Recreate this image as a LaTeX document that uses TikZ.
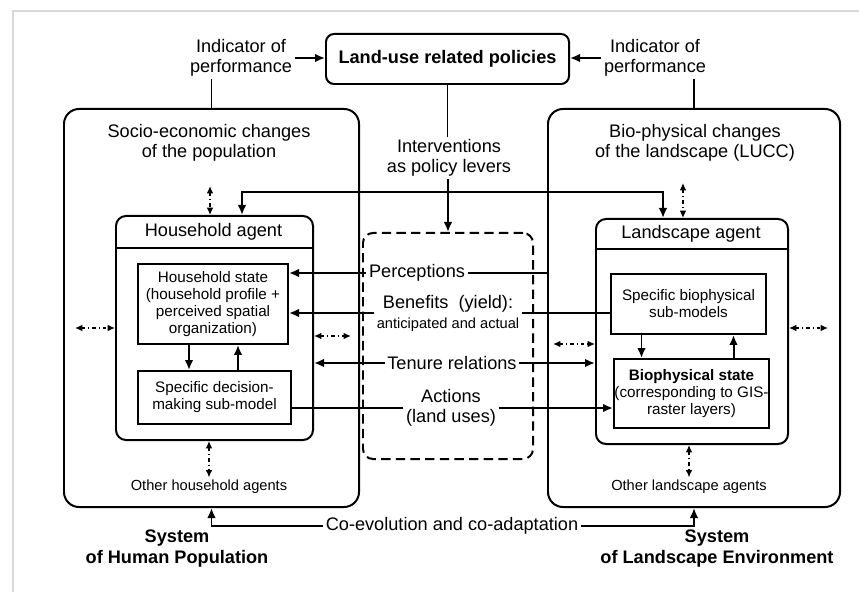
\documentclass[tikz,border=0pt]{standalone}
\usepackage{fontspec}
\setmainfont{Liberation Sans}
\usetikzlibrary{arrows.meta}

\begin{document}
\begin{tikzpicture}[x=0.03cm, y=-0.03cm, line width=1.7pt,
    riquadro/.style={draw=black, inner sep=0pt, anchor=north west},
    freccia/.style={-{Latex[length=3mm, width=2.6mm]}},
    doppia/.style={{Latex[length=3mm, width=2.6mm]}-{Latex[length=3mm, width=2.6mm]}},
    scambio/.style={line width=1.2pt, dash pattern=on 3pt off 2.5pt on 1pt off 2.5pt,
      {Latex[length=2.2mm, width=2mm]}-{Latex[length=2.2mm, width=2mm]}},
    grande/.style={font=\fontsize{15.5}{17}\selectfont, align=center, inner sep=1.5pt},
    medio/.style={font=\fontsize{13}{14.5}\selectfont, align=center},
    piccolo/.style={font=\fontsize{12.5}{14}\selectfont, align=center, inner sep=1.5pt}]

  \def\px{0.3mm}

  \useasboundingbox (0,0) rectangle (859,592);
  \draw[black!15, line width=1.2pt] (13,592) -- (13,11) -- (859,11);

  \node[riquadro, rounded corners=2.4mm, minimum width=243*\px, minimum height=50*\px,
        font=\bfseries\fontsize{15.5}{17}\selectfont] (policy) at (325,33) {Land-use related policies};
  \node[grande] (indL) at (241,58) {Indicator of\\performance};
  \node[grande] (indR) at (655,58) {Indicator of\\performance};

  \node[riquadro, rounded corners=4.5mm, minimum width=295*\px, minimum height=398*\px] (popbox) at (63,108) {};
  \node[riquadro, rounded corners=4.5mm, minimum width=292*\px, minimum height=398*\px] (landbox) at (547,108) {};
  \node[grande] (socio) at (209,143) {Socio-economic changes\\of the population};
  \node[grande] (bio) at (695,143) {Bio-physical changes\\of the landscape (LUCC)};
  \node[grande] (interv) at (449,158) {Interventions\\as policy levers};

  \node[riquadro, dash pattern=on 8pt off 4.5pt, rounded corners=3mm,
        minimum width=170*\px, minimum height=226*\px] (leve) at (362,232) {};

  \node[riquadro, rounded corners=3mm, minimum width=197*\px, minimum height=224*\px] (hh) at (115,215) {};
  \draw (hh.north west) ++(0,33) -- ++(197,0);
  \node[grande] (hhtitle) at (213.5,231.5) {Household agent};
  \node[riquadro, rounded corners=3mm, minimum width=192*\px, minimum height=225*\px] (la) at (595,218) {};
  \draw (la.north west) ++(0,31) -- ++(192,0);
  \node[grande] (latitle) at (691,233.5) {Landscape agent};

  \node[riquadro, medio, minimum width=150*\px, minimum height=80*\px] (hstate) at (137,263)
    {Household state\\(household profile +\\perceived spatial\\organization)};
  \node[riquadro, medio, minimum width=153*\px, minimum height=53*\px] (decis) at (137,370)
    {Specific decision-\\making sub-model};
  \node[riquadro, medio, minimum width=155*\px, minimum height=60*\px] (bsub) at (610,273)
    {Specific biophysical\\sub-models};
  \node[riquadro, medio, minimum width=155*\px, minimum height=69*\px] (bstate) at (613,358)
    {\textbf{Biophysical state}\\(corresponding to GIS-\\raster layers)};

  \node[grande] (perc) at (417,273) {Perceptions};
  \node[grande] (benef) at (448,313)
    {Benefits\ \ (yield):\\{\fontsize{12.5}{14}\selectfont anticipated and actual}};
  \node[grande] (tenure) at (452,363) {Tenure relations};
  \node[grande] (actions) at (451,408) {Actions\\(land uses)};

  \node[piccolo] (otherhh) at (209,487) {Other household agents};
  \node[piccolo] (otherla) at (689,487) {Other landscape agents};
  \node[grande] (coevo) at (452,526) {Co-evolution and co-adaptation};
  \node[grande, font=\bfseries\fontsize{15.5}{18}\selectfont] (sysH) at (177,548.5) {System\\of Human Population};
  \node[grande, font=\bfseries\fontsize{15.5}{18}\selectfont] (sysL) at (717,548.5) {System\\of Landscape Environment};

  \draw[freccia] (indL.east) -- (indL.east -| policy.west);
  \draw[freccia] (indR.west) -- (indR.west -| policy.east);
  \draw (popbox.north) -- (popbox.north |- indL.south);
  \draw (landbox.north) -- (landbox.north |- indR.south);
  \draw (policy.south) -- (policy.south |- interv.north);
  \draw[freccia] (leve.north |- interv.south) -- (leve.north);

  \coordinate (feedL) at (242,192);
  \coordinate (feedR) at (663,192);
  \draw[doppia] (feedL |- hh.north) -- (feedL) -- (feedR) -- (feedR |- la.north);

  \coordinate (suH) at (210,186);
  \coordinate (suL) at (683,183);
  \draw[scambio] (suH) -- (suH |- hh.north);
  \draw[scambio] (suL) -- (suL |- la.north);

  \coordinate (latoA) at (75,328);
  \coordinate (latoB) at (351,336);
  \coordinate (latoC) at (553,344);
  \coordinate (latoD) at (828,328);
  \draw[scambio] (latoA) -- (latoA -| hh.west);
  \draw[scambio] (hh.east |- latoB) -- (latoB);
  \draw[scambio] (latoC) -- (latoC -| la.west);
  \draw[scambio] (la.east |- latoD) -- (latoD);

  \draw[freccia] ([xshift=-24*\px]hstate.south) -- ([xshift=-24*\px]hstate.south |- decis.north);
  \draw[freccia] ([xshift=25*\px]hstate.south |- decis.north) -- ([xshift=25*\px]hstate.south);
  \draw[freccia] ([xshift=-47*\px]bsub.south) -- ([xshift=-47*\px]bsub.south |- bstate.north);
  \draw[freccia] ([xshift=45*\px]bsub.south |- bstate.north) -- ([xshift=45*\px]bsub.south);

  \draw (perc.east) -- (perc.east -| landbox.west);
  \draw[freccia] (perc.west) -- (perc.west -| hstate.east);
  \draw (benef.east) -- (benef.east -| bsub.west);
  \draw[freccia] (benef.west) -- (benef.west -| hstate.east);
  \draw[freccia] (tenure.west) -- (tenure.west -| hh.east);
  \draw[freccia] (tenure.east) -- (tenure.east -| la.west);
  \draw (actions.west) -- (actions.west -| decis.east);
  \draw[freccia] (actions.east) -- (actions.east -| bstate.west);

  \draw[scambio] (otherhh.north |- hh.south) -- (otherhh.north);
  \draw[scambio] (otherla.north |- la.south) -- (otherla.north);
  \draw[freccia] (coevo.west) -| (popbox.south);
  \draw[freccia] (coevo.east) -| (landbox.south);
\end{tikzpicture}
\end{document}
